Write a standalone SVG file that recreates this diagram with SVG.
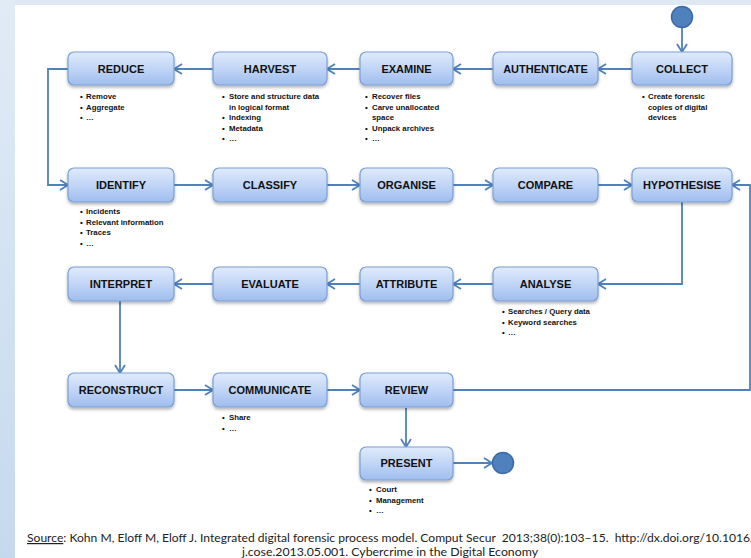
<svg xmlns="http://www.w3.org/2000/svg" width="751" height="558" viewBox="0 0 751 558">
  <defs>
    <linearGradient id="boxFill" x1="0" y1="0" x2="0" y2="1">
      <stop offset="0" stop-color="#e0ebfc"/>
      <stop offset="0.5" stop-color="#c1d5f6"/>
      <stop offset="1" stop-color="#9fbdee"/>
    </linearGradient>
    <linearGradient id="sideFill" x1="0" y1="0" x2="0" y2="1">
      <stop offset="0" stop-color="#e1ebf5"/>
      <stop offset="1" stop-color="#c5d9ee"/>
    </linearGradient>
    <filter id="shadow" x="-10%" y="-20%" width="120%" height="160%">
      <feDropShadow dx="0" dy="2" stdDeviation="1.5" flood-color="#000" flood-opacity="0.3"/>
    </filter>
    <marker id="arrow" viewBox="0 0 10 12" refX="9" refY="6" markerWidth="10" markerHeight="12" markerUnits="userSpaceOnUse" orient="auto">
      <path d="M1,1 L9,6 L1,11" fill="none" stroke="#4f81bd" stroke-width="1.8"/>
    </marker>
    <style>
      .box { fill: url(#boxFill); stroke: #7b9fd3; stroke-width: 1.2; filter: url(#shadow); }
      .label { font-family: "Liberation Sans", Arial, sans-serif; font-weight: bold; font-size: 11px; fill: #111; text-anchor: middle; }
      .note { font-family: "Liberation Sans", Arial, sans-serif; font-weight: bold; font-size: 7.8px; fill: #111; }
      .edge { fill: none; stroke: #4f81bd; stroke-width: 1.8; }
      .terminal { fill: #4f81bd; stroke: #3b6aa8; stroke-width: 1.5; }
      .source { font-family: Lato, "Liberation Sans", sans-serif; font-size: 12.1px; fill: #222; white-space: pre; }
    </style>
  </defs>

  <!-- page background -->
  <rect x="0" y="0" width="751" height="558" fill="#dfe9f4"/>
  <rect x="0" y="0" width="15" height="558" fill="url(#sideFill)"/>
  <rect x="15" y="5" width="736" height="553" fill="#ffffff"/>

  <!-- connectors -->
  <g id="connectors">
    <line class="edge" x1="682" y1="28" x2="682" y2="52" marker-end="url(#arrow)"/>
    <line class="edge" x1="632" y1="69" x2="598" y2="69" marker-end="url(#arrow)"/>
    <line class="edge" x1="493" y1="69" x2="453" y2="69" marker-end="url(#arrow)"/>
    <line class="edge" x1="360" y1="69" x2="327" y2="69" marker-end="url(#arrow)"/>
    <line class="edge" x1="213" y1="69" x2="174" y2="69" marker-end="url(#arrow)"/>
    <polyline class="edge" points="68,69 48,69 48,185 68,185" marker-end="url(#arrow)"/>
    <line class="edge" x1="174" y1="185" x2="213" y2="185" marker-end="url(#arrow)"/>
    <line class="edge" x1="327" y1="185" x2="360" y2="185" marker-end="url(#arrow)"/>
    <line class="edge" x1="453" y1="185" x2="493" y2="185" marker-end="url(#arrow)"/>
    <line class="edge" x1="598" y1="185" x2="632" y2="185" marker-end="url(#arrow)"/>
    <polyline class="edge" points="682,202 682,284 598,284" marker-end="url(#arrow)"/>
    <line class="edge" x1="493" y1="284" x2="453" y2="284" marker-end="url(#arrow)"/>
    <line class="edge" x1="360" y1="284" x2="327" y2="284" marker-end="url(#arrow)"/>
    <line class="edge" x1="213" y1="284" x2="174" y2="284" marker-end="url(#arrow)"/>
    <line class="edge" x1="120" y1="301" x2="120" y2="373" marker-end="url(#arrow)"/>
    <line class="edge" x1="174" y1="390" x2="213" y2="390" marker-end="url(#arrow)"/>
    <line class="edge" x1="327" y1="390" x2="360" y2="390" marker-end="url(#arrow)"/>
    <polyline class="edge" points="453,390 750,390 750,185 732,185" marker-end="url(#arrow)"/>
    <line class="edge" x1="406" y1="408" x2="406" y2="447" marker-end="url(#arrow)"/>
    <line class="edge" x1="453" y1="463" x2="492" y2="463" marker-end="url(#arrow)"/>
  </g>

  <!-- start and end -->
  <g id="start"><circle class="terminal" cx="682" cy="17" r="10.5"/></g>
  <g id="end"><circle class="terminal" cx="503" cy="463" r="10.5"/></g>

  <!-- row 1 -->
  <g id="collect">
    <rect class="box" x="632" y="52" width="100" height="33" rx="6"/>
    <text class="label" x="682" y="73">COLLECT</text>
    <text class="note"><tspan x="642" y="99">•</tspan><tspan x="648" y="99">Create forensic</tspan><tspan x="648" y="109.5">copies of digital</tspan><tspan x="648" y="120">devices</tspan></text>
  </g>
  <g id="authenticate">
    <rect class="box" x="493" y="52" width="105" height="33" rx="6"/>
    <text class="label" x="545.5" y="73">AUTHENTICATE</text>
  </g>
  <g id="examine">
    <rect class="box" x="360" y="52" width="93" height="33" rx="6"/>
    <text class="label" x="406.5" y="73">EXAMINE</text>
    <text class="note"><tspan x="365" y="99">•</tspan><tspan x="372" y="99">Recover files</tspan><tspan x="365" y="109.5">•</tspan><tspan x="372" y="109.5">Carve unallocated</tspan><tspan x="372" y="120">space</tspan><tspan x="365" y="130.5">•</tspan><tspan x="372" y="130.5">Unpack archives</tspan><tspan x="365" y="141">•</tspan><tspan x="372" y="141">…</tspan></text>
  </g>
  <g id="harvest">
    <rect class="box" x="213" y="52" width="114" height="33" rx="6"/>
    <text class="label" x="270" y="73">HARVEST</text>
    <text class="note"><tspan x="222" y="99">•</tspan><tspan x="229" y="99">Store and structure data</tspan><tspan x="229" y="109.5">in logical format</tspan><tspan x="222" y="120">•</tspan><tspan x="229" y="120">Indexing</tspan><tspan x="222" y="130.5">•</tspan><tspan x="229" y="130.5">Metadata</tspan><tspan x="222" y="141">•</tspan><tspan x="229" y="141">…</tspan></text>
  </g>
  <g id="reduce">
    <rect class="box" x="68" y="52" width="106" height="33" rx="6"/>
    <text class="label" x="121" y="73">REDUCE</text>
    <text class="note"><tspan x="80" y="99">•</tspan><tspan x="86" y="99">Remove</tspan><tspan x="80" y="109.5">•</tspan><tspan x="86" y="109.5">Aggregate</tspan><tspan x="80" y="120">•</tspan><tspan x="86" y="120">…</tspan></text>
  </g>

  <!-- row 2 -->
  <g id="identify">
    <rect class="box" x="68" y="168" width="106" height="34" rx="6"/>
    <text class="label" x="121" y="189">IDENTIFY</text>
    <text class="note"><tspan x="80" y="214">•</tspan><tspan x="86" y="214">Incidents</tspan><tspan x="80" y="224.5">•</tspan><tspan x="86" y="224.5">Relevant information</tspan><tspan x="80" y="235">•</tspan><tspan x="86" y="235">Traces</tspan><tspan x="80" y="245.5">•</tspan><tspan x="86" y="245.5">…</tspan></text>
  </g>
  <g id="classify">
    <rect class="box" x="213" y="168" width="114" height="34" rx="6"/>
    <text class="label" x="270" y="189">CLASSIFY</text>
  </g>
  <g id="organise">
    <rect class="box" x="360" y="168" width="93" height="34" rx="6"/>
    <text class="label" x="406.5" y="189">ORGANISE</text>
  </g>
  <g id="compare">
    <rect class="box" x="493" y="168" width="105" height="34" rx="6"/>
    <text class="label" x="545.5" y="189">COMPARE</text>
  </g>
  <g id="hypothesise">
    <rect class="box" x="632" y="168" width="100" height="34" rx="6"/>
    <text class="label" x="682" y="189">HYPOTHESISE</text>
  </g>

  <!-- row 3 -->
  <g id="analyse">
    <rect class="box" x="493" y="267" width="105" height="34" rx="6"/>
    <text class="label" x="545.5" y="288">ANALYSE</text>
    <text class="note"><tspan x="502" y="314">•</tspan><tspan x="508" y="314">Searches / Query data</tspan><tspan x="502" y="324.5">•</tspan><tspan x="508" y="324.5">Keyword searches</tspan><tspan x="502" y="335">•</tspan><tspan x="508" y="335">…</tspan></text>
  </g>
  <g id="attribute">
    <rect class="box" x="360" y="267" width="93" height="34" rx="6"/>
    <text class="label" x="406.5" y="288">ATTRIBUTE</text>
  </g>
  <g id="evaluate">
    <rect class="box" x="213" y="267" width="114" height="34" rx="6"/>
    <text class="label" x="270" y="288">EVALUATE</text>
  </g>
  <g id="interpret">
    <rect class="box" x="68" y="267" width="106" height="34" rx="6"/>
    <text class="label" x="121" y="288">INTERPRET</text>
  </g>

  <!-- row 4 -->
  <g id="reconstruct">
    <rect class="box" x="68" y="373" width="106" height="34" rx="6"/>
    <text class="label" x="121" y="394">RECONSTRUCT</text>
  </g>
  <g id="communicate">
    <rect class="box" x="213" y="373" width="114" height="34" rx="6"/>
    <text class="label" x="270" y="394">COMMUNICATE</text>
    <text class="note"><tspan x="222" y="420">•</tspan><tspan x="229" y="420">Share</tspan><tspan x="222" y="430.5">•</tspan><tspan x="229" y="430.5">…</tspan></text>
  </g>
  <g id="review">
    <rect class="box" x="360" y="373" width="93" height="34" rx="6"/>
    <text class="label" x="406.5" y="394">REVIEW</text>
  </g>
  <g id="present">
    <rect class="box" x="360" y="447" width="93" height="33" rx="6"/>
    <text class="label" x="406.5" y="467">PRESENT</text>
    <text class="note"><tspan x="369" y="492">•</tspan><tspan x="376" y="492">Court</tspan><tspan x="369" y="502.5">•</tspan><tspan x="376" y="502.5">Management</tspan><tspan x="369" y="513">•</tspan><tspan x="376" y="513">…</tspan></text>
  </g>

  <!-- citation (runs past the right edge of the page) -->
  <text class="source" x="27" y="542"><tspan text-decoration="underline">Source</tspan>: Kohn M, Eloff M, Eloff J. Integrated digital forensic process model. Comput Secur  2013;38(0):103–15.  http://dx.doi.org/10.1016/</text>
  <text class="source" x="390" y="556" text-anchor="middle" style="font-size:12.3px">j.cose.2013.05.001. Cybercrime in the Digital Economy</text>
</svg>
